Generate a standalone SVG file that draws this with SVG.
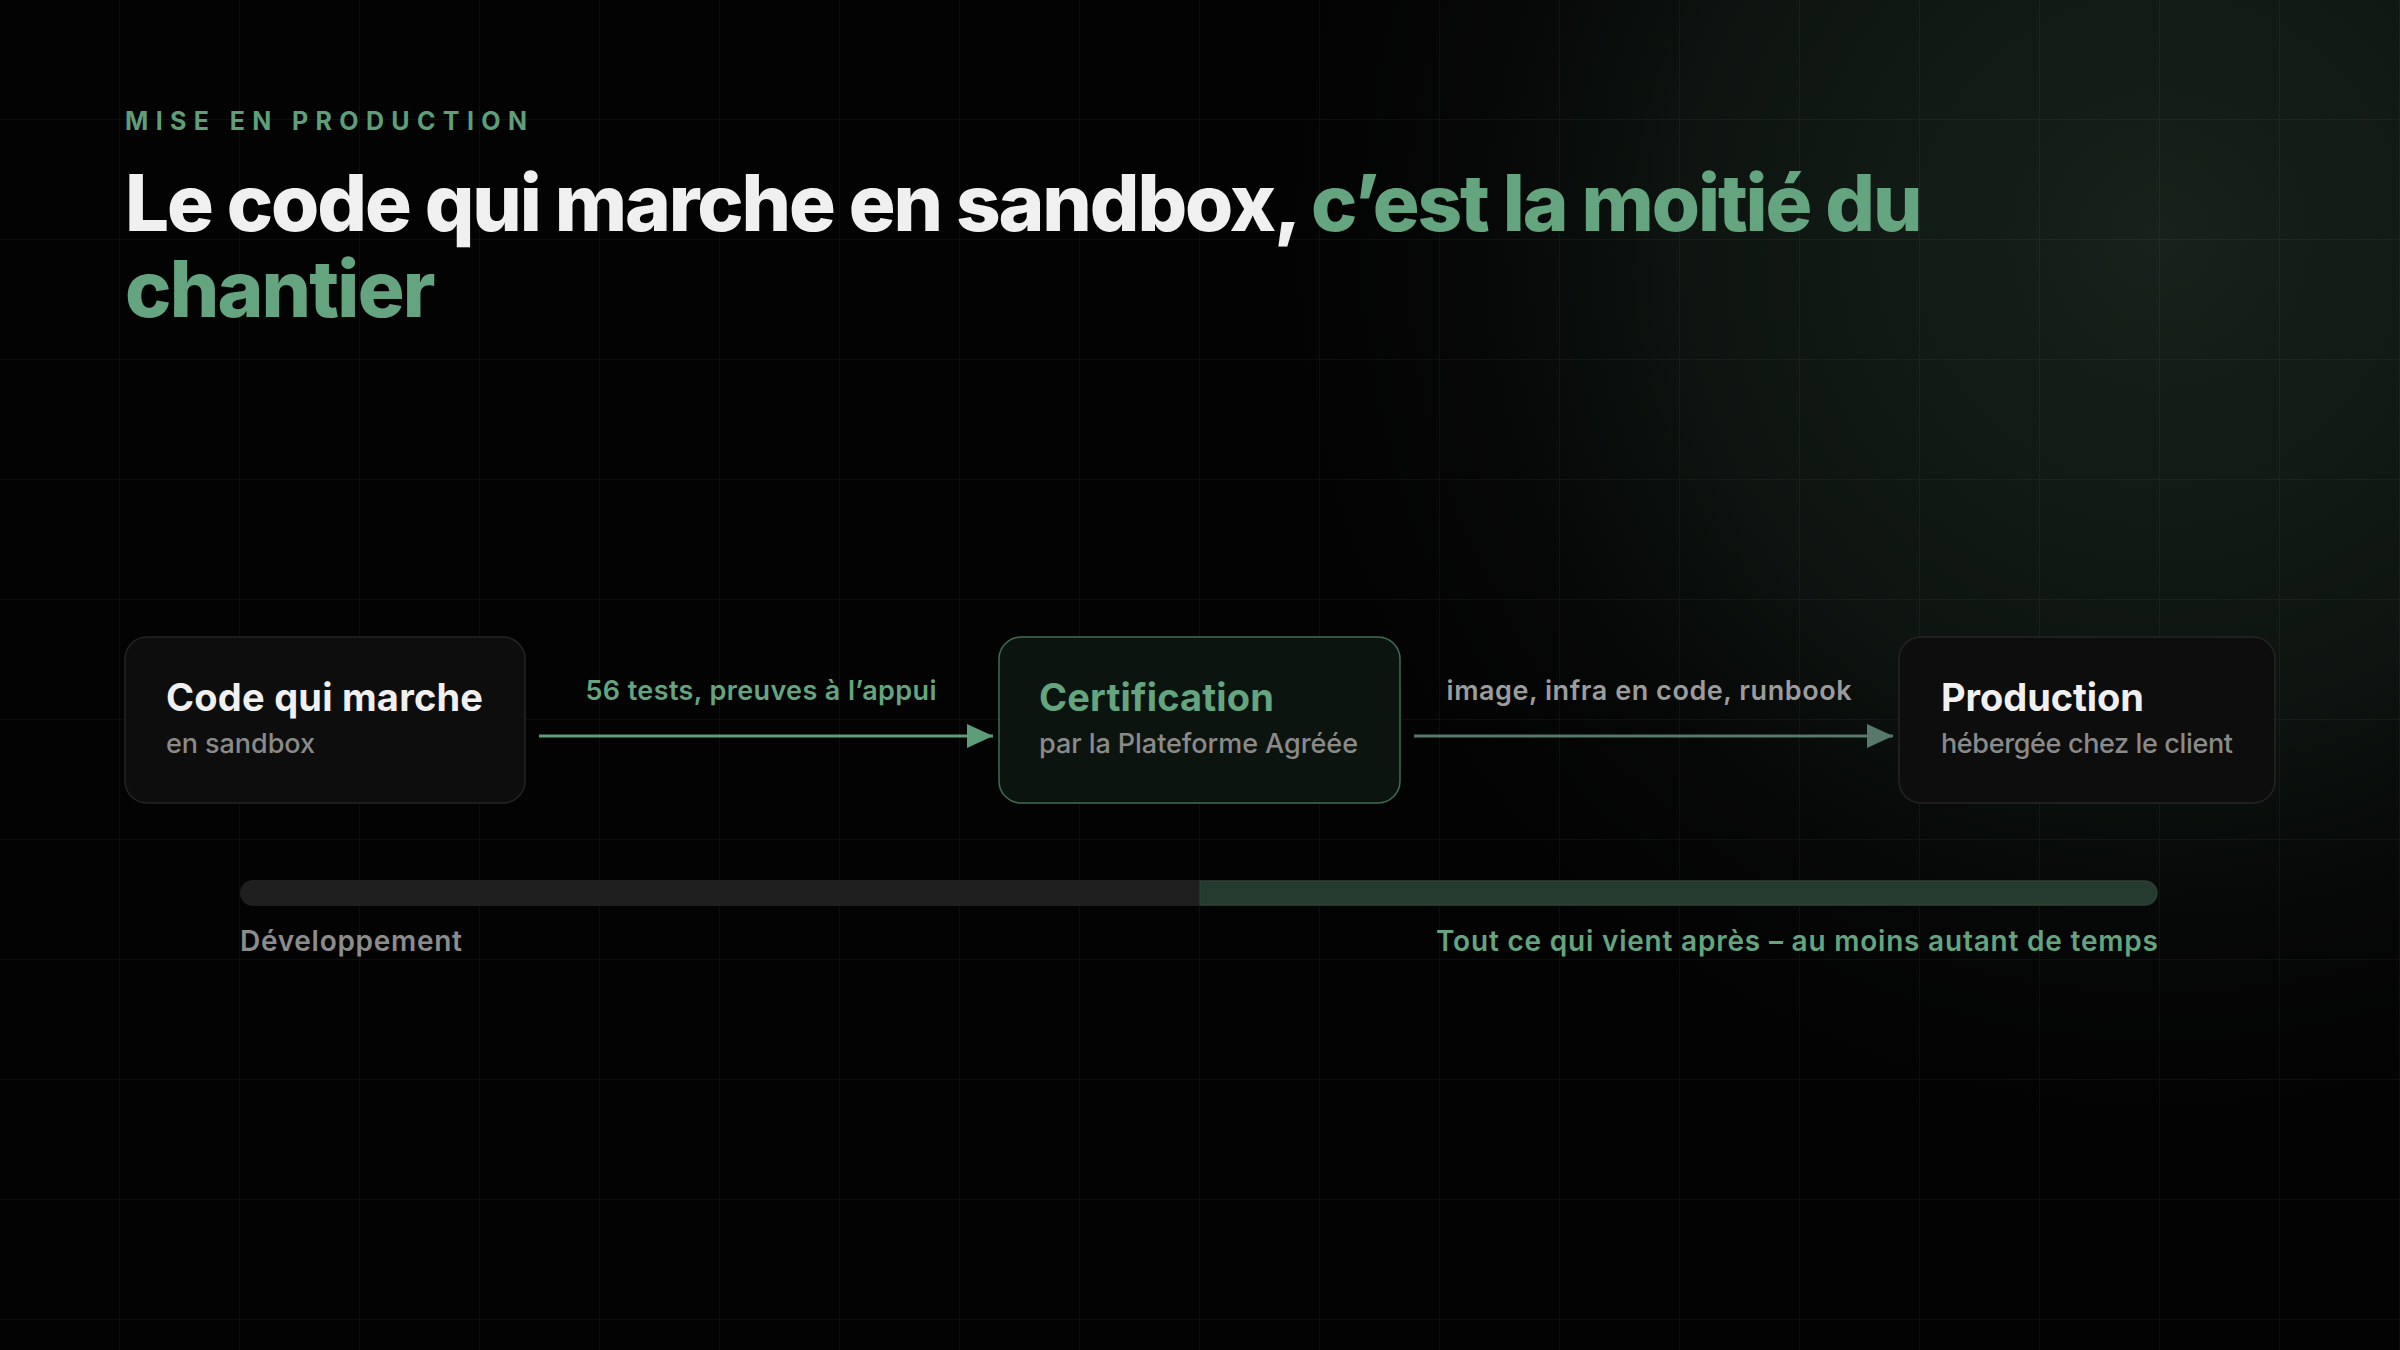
<svg xmlns="http://www.w3.org/2000/svg" width="2400" height="1350" viewBox="0 0 2400 1350">
  <defs>
    <pattern id="grid" width="120" height="120" patternUnits="userSpaceOnUse">
      <path d="M120 0 V120 M0 120 H120" fill="none" stroke="#ffffff" stroke-opacity="0.045" stroke-width="2"/>
    </pattern>
    <radialGradient id="glow" cx="2160" cy="240" r="950" gradientUnits="userSpaceOnUse">
      <stop offset="0" stop-color="#16221b" stop-opacity="1"/>
      <stop offset="0.5" stop-color="#111a15" stop-opacity="0.75"/>
      <stop offset="1" stop-color="#000000" stop-opacity="0"/>
    </radialGradient>
    <marker id="headGreen" viewBox="0 0 26 24" refX="26" refY="12" markerWidth="26" markerHeight="24" markerUnits="userSpaceOnUse" orient="auto">
      <path d="M0 0 L26 12 L0 24 Z" fill="#5d9d78"/>
    </marker>
    <marker id="headMuted" viewBox="0 0 26 24" refX="26" refY="12" markerWidth="26" markerHeight="24" markerUnits="userSpaceOnUse" orient="auto">
      <path d="M0 0 L26 12 L0 24 Z" fill="#56796a"/>
    </marker>
    <style>
      .sans { font-family: Inter, "Noto Sans", "Liberation Sans", sans-serif; }
      .eyebrow { font-size: 25px; font-weight: 700; fill: #5e9e78; letter-spacing: 6px; }
      .title { font-size: 78px; font-weight: 800; letter-spacing: -2.5px; }
      .white { fill: #f0f0f0; }
      .green { fill: #64a47f; }
      .node { fill: #0d0d0d; stroke: #242424; stroke-width: 1.5; }
      .node-accent { fill: #0c140f; stroke: #3f6d53; stroke-width: 1.5; }
      .ntitle { font-size: 38px; font-weight: 700; letter-spacing: -1px; }
      .nsub { font-size: 27px; font-weight: 500; fill: #8a8a8a; }
      .elabel { font-size: 27px; font-weight: 600; }
      .foot { font-size: 28px; font-weight: 600; }
    </style>
  </defs>

  <rect x="0" y="0" width="2400" height="1350" fill="#030303"/>
  <rect x="0" y="0" width="2400" height="1350" fill="url(#glow)"/>
  <rect x="0" y="0" width="2400" height="1350" fill="url(#grid)"/>

  <g id="header">
    <text class="sans eyebrow" x="125" y="130" textLength="408" lengthAdjust="spacing">MISE EN PRODUCTION</text>
    <text class="sans title" x="125" y="231" textLength="1795" lengthAdjust="spacing"><tspan class="white">Le code qui marche en sandbox, </tspan><tspan class="green">c’est la moitié du</tspan></text>
    <text class="sans title green" x="125" y="317" textLength="308" lengthAdjust="spacing">chantier</text>
  </g>

  <g id="connectors">
    <g id="edge-code-cert">
      <line x1="539" y1="736" x2="993" y2="736" stroke="#5d9d78" stroke-width="3" marker-end="url(#headGreen)"/>
      <text class="sans elabel green" x="761" y="700" text-anchor="middle" textLength="351" lengthAdjust="spacing">56 tests, preuves à l’appui</text>
    </g>
    <g id="edge-cert-prod">
      <line x1="1414" y1="736" x2="1893" y2="736" stroke="#56796a" stroke-width="3" marker-end="url(#headMuted)"/>
      <text class="sans elabel" fill="#9c9c9c" x="1649" y="700" text-anchor="middle" textLength="405" lengthAdjust="spacing">image, infra en code, runbook</text>
    </g>
  </g>

  <g id="node-code">
    <rect class="node" x="125" y="637" width="400" height="166" rx="22"/>
    <text class="sans ntitle white" x="166" y="711" textLength="316" lengthAdjust="spacing">Code qui marche</text>
    <text class="sans nsub" x="166" y="753" textLength="149" lengthAdjust="spacing">en sandbox</text>
  </g>

  <g id="node-certification">
    <rect class="node-accent" x="999" y="637" width="401" height="166" rx="22"/>
    <text class="sans ntitle green" x="1039" y="711" textLength="234" lengthAdjust="spacing">Certification</text>
    <text class="sans nsub" x="1039" y="753" textLength="319" lengthAdjust="spacing">par la Plateforme Agréée</text>
  </g>

  <g id="node-production">
    <rect class="node" x="1899" y="637" width="376" height="166" rx="22"/>
    <text class="sans ntitle white" x="1941" y="711" textLength="202" lengthAdjust="spacing">Production</text>
    <text class="sans nsub" x="1941" y="753" textLength="292" lengthAdjust="spacing">hébergée chez le client</text>
  </g>

  <g id="timeline">
    <rect x="240" y="880" width="1918" height="26" rx="13" fill="#1f1f1f"/>
    <path d="M1200 881 H2145 A12 12 0 0 1 2157 893 A12 12 0 0 1 2145 905 H1200 Z" fill="#253b2f" stroke="#2c4536" stroke-width="1"/>
    <text class="sans foot" fill="#8c8c8c" x="240" y="951" textLength="222" lengthAdjust="spacing">Développement</text>
    <text class="sans foot green" x="2158" y="951" text-anchor="end" textLength="722" lengthAdjust="spacing">Tout ce qui vient après – au moins autant de temps</text>
  </g>
</svg>
